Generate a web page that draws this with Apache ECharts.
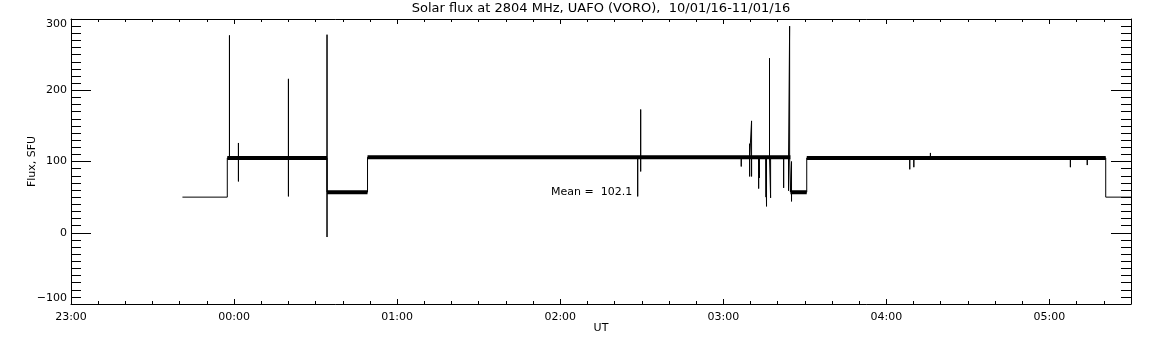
<!DOCTYPE html>
<html>
<head>
<meta charset="utf-8">
<script src="https://cdn.jsdelivr.net/npm/echarts@6/dist/echarts.min.js"></script>
<style>
html,body{margin:0;padding:0;background:#fff}
#chart{width:1152px;height:345px}
</style>
</head>
<body>
<div id="chart"></div>
<script>
// time in minutes after 23:00 UT
var stepMin = [41.0, 57.5, 94.2, 109.1, 264.7, 270.7, 380.7, 390];
var stepFlux = [50, 105, 57, 106, 57, 105, 50];
var stepNoisy = [false, true, true, true, true, true, false];

var spikeMin  = [58.3, 61.6, 80.0, 94.2, 208.5, 209.6, 246.6, 249.7, 250.4, 253.0, 253.3, 255.7, 255.9, 257.0, 257.4, 262.2, 264.0, 264.4, 265.1, 308.6, 310.1, 316.2, 367.7, 373.9];
var spikeHigh = [277, 126, 216, 278, 106, 173, 106, 125, 157, 106, 106, 106, 106, 245, 106, 106, 106, 290, 100, 105, 105, 112, 105, 105];
var spikeLow  = [105, 72, 51, -6, 51, 86, 93, 79, 79, 62, 77, 50, 37, 106, 49, 63, 59, 106, 44, 89, 92, 105, 92, 95];

var xTicks = ['23:00', '00:00', '01:00', '02:00', '03:00', '04:00', '05:00'];
var titleText = 'Solar flux at 2804 MHz, UAFO (VORO),  10/01/16-11/01/16';
var meanText = 'Mean =  102.1';

var trace = [];
var band = [];
for (var i = 0; i < stepFlux.length; i++) {
    var t0 = stepMin[i], t1 = stepMin[i + 1], lvl = stepFlux[i];
    trace.push([t0, lvl]);
    for (var k = 0; k < spikeMin.length; k++) {
        var t = spikeMin[k];
        if (t >= t0 && t < t1) {
            trace.push([t, lvl], [t, spikeHigh[k]], [t, spikeLow[k]], [t, lvl]);
        }
    }
    trace.push([t1, lvl]);
    if (stepNoisy[i]) {
        band.push([t0, lvl], [t1, lvl], [t1, '-']);
    }
}

var font = 'DejaVu Sans';

function xAxisOpt(pos, labels) {
    return {
        type: 'value', position: pos, min: 0, max: 390, interval: 60,
        axisLine: { onZero: false, lineStyle: { color: '#000', width: 1 } },
        axisTick: { inside: true, length: 5, lineStyle: { color: '#000' } },
        minorTick: { show: true, splitNumber: 6, length: 3, lineStyle: { color: '#000' } },
        splitLine: { show: false },
        axisLabel: {
            show: labels, color: '#000', fontFamily: font, fontSize: 11, margin: 8,
            formatter: function (v) { return xTicks[Math.round(v / 60)] || ''; }
        },
        name: labels ? 'UT' : '', nameLocation: 'middle', nameGap: 19, nameMoveOverlap: false,
        nameTextStyle: { color: '#000', fontFamily: font, fontSize: 11 }
    };
}

function yAxisOpt(pos, labels) {
    return {
        type: 'value', position: pos, min: -100, max: 300, interval: 100,
        axisLine: { show: true, onZero: false, lineStyle: { color: '#000', width: 1 } },
        axisTick: { show: true, inside: true, length: 20, lineStyle: { color: '#000' } },
        minorTick: { show: true, splitNumber: 10, length: 10, lineStyle: { color: '#000' } },
        splitLine: { show: false },
        axisLabel: {
            show: labels, color: '#000', fontFamily: font, fontSize: 11, margin: 4,
            verticalAlignMaxLabel: 'top', verticalAlignMinLabel: 'bottom',
            formatter: function (v) { return v < 0 ? '\u2212' + (-v) : String(v); }
        },
        name: labels ? 'Flux, SFU' : '', nameLocation: 'middle', nameGap: 33, nameRotate: 90,
        nameMoveOverlap: false,
        nameTextStyle: { color: '#000', fontFamily: font, fontSize: 11 }
    };
}

var chart = echarts.init(document.getElementById('chart'), null, { renderer: 'canvas' });
chart.setOption({
    backgroundColor: '#fff',
    animation: false,
    grid: { left: 71, right: 21, top: 19, bottom: 41 },
    xAxis: [xAxisOpt('bottom', true), xAxisOpt('top', false)],
    yAxis: [yAxisOpt('left', true), yAxisOpt('right', false)],
    graphic: [
        {
            type: 'text', x: 601, y: 2, silent: true,
            style: { text: titleText, align: 'center', verticalAlign: 'top', fill: '#000', font: '13px "DejaVu Sans"' }
        },
        {
            type: 'text', x: 551, y: 192, silent: true,
            style: { text: meanText, align: 'left', verticalAlign: 'middle', fill: '#000', font: '11px "DejaVu Sans"' }
        }
    ],
    series: [
        {
            type: 'line', data: band, showSymbol: false, symbol: 'none', silent: true,
            connectNulls: false, lineStyle: { color: '#000', width: 4 }
        },
        {
            type: 'line', data: trace, showSymbol: false, symbol: 'none', silent: true,
            lineStyle: { color: '#000', width: 1, join: 'bevel' }
        }
    ]
});
</script>
</body>
</html>
